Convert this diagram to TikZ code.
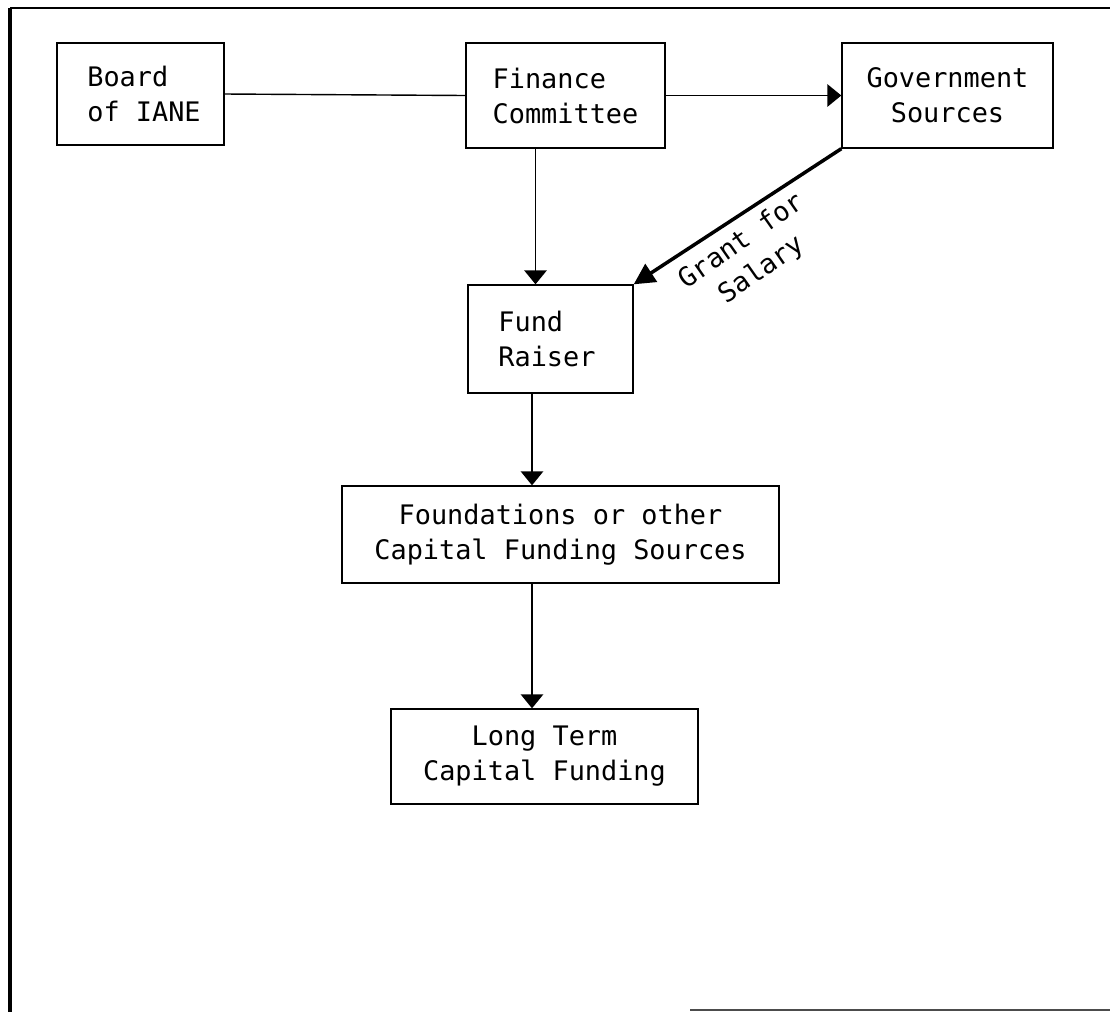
\documentclass[tikz,border=0pt]{standalone}
\usepackage{fontspec}
\setmainfont{DejaVu Sans Mono}
\usepackage{tikz}
\usetikzlibrary{positioning,arrows.meta}

\begin{document}
\begin{tikzpicture}[x=0.02cm, y=-0.02cm,
    box/.style={draw, line width=0.8pt, inner sep=0pt,
      font=\fontsize{15.3}{19.9}\selectfont},
    flow/.style={line width=0.8pt, -{Triangle[length=0.28cm,width=0.45cm]}},
    grantflow/.style={line width=2pt, -{Triangle[length=0.42cm,width=0.42cm]}}]
  \useasboundingbox (0,0) rectangle (1110,1012);

  % Page frame
  \draw[line width=2.2pt] (10,8) -- (10,1012);
  \draw[line width=1.4pt] (10,8) -- (1110,8);
  \draw[line width=1.2pt, black!70] (690,1010) -- (1110,1010);

  % Boxes
  \node[box, align=left, minimum width=3.34cm, minimum height=2.04cm] (board) at (140.5,94) {\hspace*{0.14cm}Board\\\hspace*{0.14cm}of IANE};
  \node[box, align=left, minimum width=3.98cm, minimum height=2.1cm] (fin) at (565.5,95.5) {Finance\\Committee};
  \node[box, align=center, minimum width=4.22cm, minimum height=2.1cm] (gov) at (947.5,95.5) {Government\\Sources};
  \node[box, align=left, minimum width=3.3cm, minimum height=2.16cm] (fund) at (550.5,339) {Fund\\Raiser\hspace*{0.14cm}};
  \node[box, align=center, minimum width=8.74cm, minimum height=1.94cm] (found) at (560.5,534.5)
    {Foundations or other\\Capital Funding Sources};
  \node[box, align=center, minimum width=6.14cm, minimum height=1.9cm] (long) at (544.5,756.5)
    {Long Term\\Capital Funding};

  % Connectors
  \draw[line width=0.8pt] (board.east) -- (fin.west);
  \draw[flow] (fin.east) -- (gov.west);
  \draw[flow] ([xshift=-0.3cm]fund.north |- fin.south) -- ([xshift=-0.3cm]fund.north);
  \draw[grantflow] (gov.south west) -- (fund.north east);
  \draw[flow] ([xshift=-0.37cm]fund.south) -- ([xshift=-0.37cm]fund.south |- found.north);
  \draw[flow] ([xshift=-0.37cm]fund.south |- found.south) -- ([xshift=-0.37cm]fund.south |- long.north);

  % Label
  \node[font=\fontsize{15.3}{19.9}\selectfont, align=center, rotate=35] (grant) at (752,256)
    {Grant for\\Salary};
\end{tikzpicture}
\end{document}
